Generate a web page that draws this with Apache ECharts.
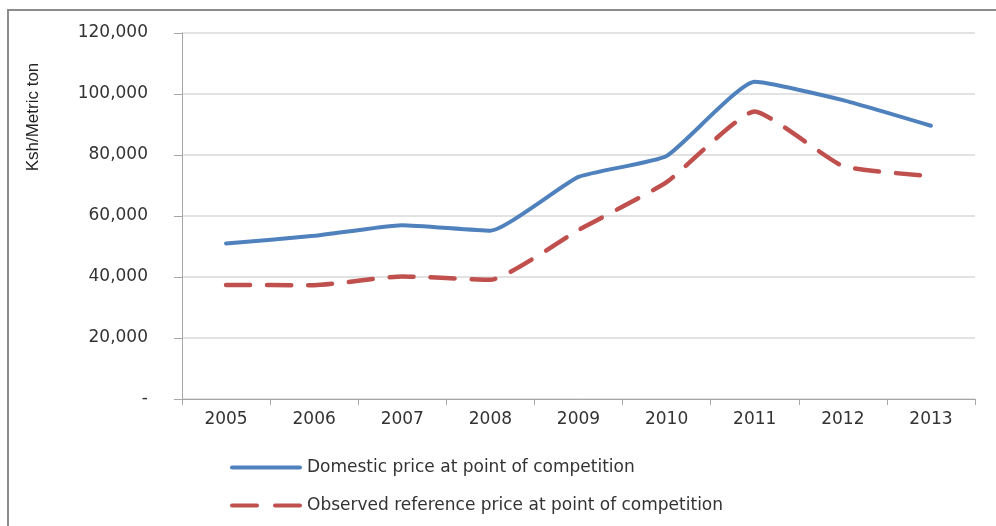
<!DOCTYPE html>
<html>
<head>
<meta charset="utf-8">
<script src="https://cdn.jsdelivr.net/npm/echarts@6/dist/echarts.min.js"></script>
<style>
html,body{margin:0;padding:0;background:#fff;}
#chart{width:996px;height:526px;}
</style>
</head>
<body>
<div id="chart"></div>
<script>
var years = ['2005','2006','2007','2008','2009','2010','2011','2012','2013'];
var domesticPrice = [51000, 53500, 57000, 55200, 72800, 79700, 104000, 98000, 89600];
var referencePrice = [37400, 37300, 40200, 39100, 55400, 71100, 94300, 76400, 73100];
var seriesNames = ['Domestic price at point of competition', 'Observed reference price at point of competition'];
var yAxisTitle = 'Ksh/Metric ton';

var solidIcon = 'path://M2,0 L70,0 A2,2 0 0 1 70,4 L2,4 A2,2 0 0 1 2,0 Z';
var dashIcon = 'path://M2,0 L27,0 A2,2 0 0 1 27,4 L2,4 A2,2 0 0 1 2,0 Z M45,0 L70,0 A2,2 0 0 1 70,4 L45,4 A2,2 0 0 1 45,0 Z';

var chart = echarts.init(document.getElementById('chart'));
chart.setOption({
  animation: false,
  backgroundColor: '#ffffff',
  grid: {left: 182, right: 21, top: 33, bottom: 127, containLabel: false},
  graphic: [
    {type: 'rect', silent: true, z: -1,
     shape: {x: 8, y: 10, width: 1200, height: 700},
     style: {fill: 'none', stroke: '#8c8c8c', lineWidth: 2}},
    {type: 'text', x: 33, y: 117, rotation: Math.PI / 2,
     style: {text: yAxisTitle, fill: '#222',
       font: '500 17px "Liberation Sans Narrow", "Liberation Sans", sans-serif',
       align: 'center', verticalAlign: 'middle'}}
  ],
  legend: {
    orient: 'vertical', left: 225, top: 454, itemGap: 21,
    itemWidth: 72, itemHeight: 4,
    textStyle: {fontFamily: 'DejaVu Sans', fontSize: 17, color: '#333'},
    data: [
      {name: seriesNames[0], icon: solidIcon},
      {name: seriesNames[1], icon: dashIcon}
    ]
  },
  xAxis: {
    type: 'category', data: years, boundaryGap: true,
    axisLine: {lineStyle: {color: '#a6a6a6', width: 1}},
    axisTick: {show: true, alignWithLabel: false, length: 6, lineStyle: {color: '#a6a6a6'}},
    axisLabel: {fontFamily: 'DejaVu Sans', fontSize: 17, color: '#333', margin: 12}
  },
  yAxis: {
    type: 'value', min: 0, max: 120000, interval: 20000,
    axisLine: {show: true, lineStyle: {color: '#a6a6a6', width: 1}},
    axisTick: {show: true, length: 8, lineStyle: {color: '#a6a6a6'}},
    splitLine: {show: true, lineStyle: {color: '#d9d9d9', width: 1.5}},
    axisLabel: {
      fontFamily: 'DejaVu Sans', fontSize: 17, color: '#333', margin: 34,
      formatter: function (v) { return v === 0 ? '-' : v.toLocaleString('en-US'); }
    }
  },
  series: [
    {name: seriesNames[0], type: 'line', data: domesticPrice, smooth: 0.15,
     symbol: 'none', lineStyle: {color: '#4f81bd', width: 4, cap: 'round'},
     itemStyle: {color: '#4f81bd'}},
    {name: seriesNames[1], type: 'line', data: referencePrice, smooth: 0.15,
     symbol: 'none', lineStyle: {color: '#c0504d', width: 4.5, type: [24, 17], cap: 'round'},
     itemStyle: {color: '#c0504d'}}
  ]
});
</script>
</body>
</html>
